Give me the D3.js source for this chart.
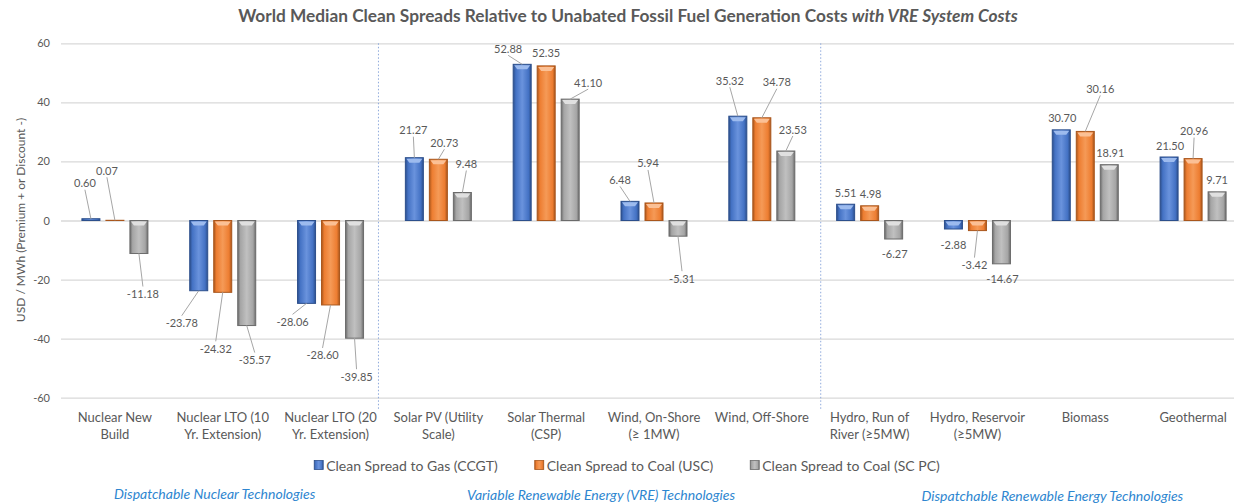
<!DOCTYPE html>
<html>
<head>
<meta charset="utf-8">
<script src="https://cdn.jsdelivr.net/npm/d3@7"></script>
<style>
  body { margin: 0; background: #fff; }
  svg { display: block; font-family: Lato, "Open Sans", sans-serif; }
</style>
</head>
<body>
<script>
// Chart data
var categories = ["Nuclear New\nBuild", "Nuclear LTO (10\nYr. Extension)", "Nuclear LTO (20\nYr. Extension)",
    "Solar PV (Utility\nScale)", "Solar Thermal\n(CSP)", "Wind, On-Shore\n(\u2265 1MW)", "Wind, Off-Shore",
    "Hydro, Run of\nRiver (\u22655MW)", "Hydro, Reservoir\n(\u22655MW)", "Biomass", "Geothermal"];
var seriesNames = ["Clean Spread to Gas (CCGT)", "Clean Spread to Coal (USC)", "Clean Spread to Coal (SC PC)"];
var gasCCGT = [0.60, -23.78, -28.06, 21.27, 52.88, 6.48, 35.32, 5.51, -2.88, 30.70, 21.50];
var coalUSC = [0.07, -24.32, -28.60, 20.73, 52.35, 5.94, 34.78, 4.98, -3.42, 30.16, 20.96];
var coalSCPC = [-11.18, -35.57, -39.85, 9.48, 41.10, -5.31, 23.53, -6.27, -14.67, 18.91, 9.71];
var yTicks = [-60, -40, -20, 0, 20, 40, 60];
var groupNames = ["Dispatchable Nuclear Technologies", "Variable Renewable Energy (VRE) Technologies",
    "Dispatchable Renewable Energy Technologies"];
var groupRanges = [[0, 2], [3, 6], [7, 10]]; // category index ranges for each group

// Data label offsets [dx, dy] from the bar end (layout only, like Excel's dragged labels)
var labelOffsets = [
    [[-6, -36], [-8, -50], [4, 40]],
    [[-17, 32], [-7, 56], [8, 34]],
    [[-14, 18], [-8, 50], [2, 38]],
    [[-1, -28], [6, -17], [4, -29]],
    [[-14, -16], [0, -13], [18, -17]],
    [[-10, -22], [-6, -40], [4, 42]],
    [[-8, -36], [15, -36], [7, -22]],
    [[0, -12], [1, -12], [1, 14]],
    [[0, 15], [-3, 34], [1, 15]],
    [[1, -12], [15, -43], [1, -12]],
    [[1, -12], [1, -28], [0, -12]]
];

var w = 1234;
var h = 504;
var left = 61, right = 1247; // plot runs slightly past the picture edge
var textColor = "#595959";

// plain hyphen for negatives, as in the original
var locale = d3.formatLocale({ decimal: ".", thousands: ",", grouping: [3], currency: ["$", ""], minus: "-" });

var allSeries = [gasCCGT, coalUSC, coalSCPC];
var colors = [
    { dark: "#2C4F8C", base: "#4472C4", light: "#6A93DD", cap: "#9DBBEE" },
    { dark: "#A9561C", base: "#ED7D31", light: "#F59A57", cap: "#FBC095" },
    { dark: "#6B6B6B", base: "#A5A5A5", light: "#C0C0C0", cap: "#E0E0E0" }
];

var svg = d3.select("body").append("svg")
    .attr("width", w)
    .attr("height", h);

// Gradients for the bevelled bars
var defs = svg.append("defs");
colors.forEach(function(c, i) {
    var g = defs.append("linearGradient").attr("id", "grad" + i)
        .attr("x1", "0%").attr("x2", "100%").attr("y1", "0%").attr("y2", "0%");
    g.append("stop").attr("offset", "0%").attr("stop-color", c.dark);
    g.append("stop").attr("offset", "15%").attr("stop-color", c.base);
    g.append("stop").attr("offset", "50%").attr("stop-color", c.light);
    g.append("stop").attr("offset", "85%").attr("stop-color", c.base);
    g.append("stop").attr("offset", "100%").attr("stop-color", c.dark);
});

// Scales
var xScale = d3.scaleBand()
    .domain(d3.range(categories.length))
    .range([left, right]);

var xSub = d3.scaleBand()
    .domain(d3.range(allSeries.length))
    .range([-33, 33])
    .paddingInner(0.25);

var yScale = d3.scaleLinear()
    .domain([-60, 60])
    .range([397.7, 43.3]);

// Title
var title = svg.append("text")
    .attr("x", 628)
    .attr("y", 22)
    .attr("text-anchor", "middle")
    .attr("font-size", "17.3px")
    .attr("font-weight", "bold")
    .attr("fill", textColor);
title.append("tspan").text("World Median Clean Spreads Relative to Unabated Fossil Fuel Generation Costs ");
title.append("tspan").attr("font-style", "italic").text("with VRE System Costs");

// Y axis with gridlines
var yAxis = d3.axisLeft(yScale)
    .tickValues(yTicks)
    .tickSize(-(right - left))
    .tickPadding(11)
    .tickFormat(locale.format("d"));

var yAxisG = svg.append("g")
    .attr("class", "y-axis")
    .attr("transform", "translate(" + left + ",0)")
    .call(yAxis);
yAxisG.select(".domain").remove();
yAxisG.selectAll("line").attr("stroke", "#D9D9D9").attr("stroke-width", 1.3);
yAxisG.selectAll("text")
    .attr("fill", textColor)
    .attr("font-size", "11px")
    .attr("font-family", "Lato, 'Open Sans', sans-serif");

// Y axis label
svg.append("text")
    .attr("transform", "rotate(-90)")
    .attr("x", -220)
    .attr("y", 20)
    .attr("text-anchor", "middle")
    .attr("dominant-baseline", "central")
    .attr("font-size", "12px")
    .attr("fill", textColor)
    .text("USD / MWh (Premium + or Discount -)");

// Dotted group dividers (nudged a little off the band edges as in the original)
var dividerX = [xScale(groupRanges[1][0]) - 6, xScale(groupRanges[2][0]) + 5];
svg.selectAll(".divider")
    .data(dividerX)
    .join("line")
    .attr("class", "divider")
    .attr("x1", function(d) { return d; })
    .attr("x2", function(d) { return d; })
    .attr("y1", yScale(60))
    .attr("y2", 410)
    .attr("stroke", "#8FAADC")
    .attr("stroke-width", 1)
    .attr("stroke-dasharray", "1.5,2");

// Bars
var barData = [];
allSeries.forEach(function(values, s) {
    values.forEach(function(v, i) {
        barData.push({ s: s, i: i, v: v });
    });
});

function barX(d) {
    return xScale(d.i) + xScale.bandwidth() / 2 + xSub(d.s);
}

var bars = svg.append("g").selectAll("g")
    .data(barData)
    .join("g");

bars.append("rect")
    .attr("x", barX)
    .attr("y", function(d) { return yScale(Math.max(0, d.v)); })
    .attr("width", xSub.bandwidth())
    .attr("height", function(d) { return Math.abs(yScale(d.v) - yScale(0)); })
    .attr("fill", function(d) { return "url(#grad" + d.s + ")"; })
    .attr("stroke", function(d) { return colors[d.s].dark; })
    .attr("stroke-width", 1);

// Bevel cap at the top of each bar
bars.filter(function(d) { return Math.abs(yScale(d.v) - yScale(0)) > 7; })
    .append("path")
    .attr("d", function(d) {
        var x0 = barX(d), bw = xSub.bandwidth();
        var top = yScale(Math.max(0, d.v));
        return "M" + (x0 + 1) + "," + (top + 1) + "L" + (x0 + bw - 1) + "," + (top + 1) +
            "L" + (x0 + bw - 4) + "," + (top + 5) + "L" + (x0 + 4) + "," + (top + 5) + "Z";
    })
    .attr("fill", function(d) { return colors[d.s].cap; });

// Data labels with leader lines
var fmt = locale.format(".2f");
barData.forEach(function(d) {
    var ax = barX(d) + xSub.bandwidth() / 2;
    var ay = yScale(d.v);
    var off = labelOffsets[d.i][d.s];
    var tx = ax + off[0], ty = ay + off[1];
    if (Math.sqrt(off[0] * off[0] + off[1] * off[1]) > 16.5) {
        var ey = off[1] < 0 ? ty + 7 : ty - 7;
        svg.append("line")
            .attr("x1", ax).attr("y1", ay)
            .attr("x2", tx).attr("y2", ey)
            .attr("stroke", "#A6A6A6")
            .attr("stroke-width", 1);
    }
    svg.append("text")
        .attr("x", tx)
        .attr("y", ty)
        .attr("text-anchor", "middle")
        .attr("dominant-baseline", "central")
        .attr("font-size", "11px")
        .attr("fill", textColor)
        .text(fmt(d.v));
});

// Category labels
var catLabels = svg.append("g").selectAll("text")
    .data(categories)
    .join("text")
    .attr("x", function(d, i) { return xScale(i) + xScale.bandwidth() / 2; })
    .attr("y", 417)
    .attr("text-anchor", "middle")
    .attr("font-size", "13px")
    .attr("fill", textColor);
catLabels.each(function(d) {
    var t = d3.select(this);
    d.split("\n").forEach(function(line, k) {
        t.append("tspan")
            .attr("x", t.attr("x"))
            .attr("dy", k === 0 ? "0.35em" : "17px")
            .text(line);
    });
});

// Legend
var legend = svg.append("g");
var items = legend.selectAll("g")
    .data(seriesNames)
    .join("g");
items.append("rect")
    .attr("width", 9)
    .attr("height", 9)
    .attr("y", -4.5)
    .attr("fill", function(d, i) { return "url(#grad" + i + ")"; })
    .attr("stroke", function(d, i) { return colors[i].dark; })
    .attr("stroke-width", 0.8);
items.append("text")
    .attr("x", 12)
    .attr("dominant-baseline", "central")
    .attr("font-size", "14px")
    .attr("fill", textColor)
    .text(function(d) { return d; });
var pos = 0, offsets = [];
items.each(function() {
    offsets.push(pos);
    pos += 12 + d3.select(this).select("text").node().getComputedTextLength() + 37;
});
var total = pos - 37;
items.attr("transform", function(d, i) {
    return "translate(" + (627 - total / 2 + offsets[i]) + ",465)";
});

// Group captions below the chart
var groupNudge = [-8, 1, 21];
var groupY = [493, 494, 495];
svg.append("g").selectAll("text")
    .data(groupNames)
    .join("text")
    .attr("x", function(d, i) {
        var r = groupRanges[i];
        return (xScale(r[0]) + xScale(r[1]) + xScale.bandwidth()) / 2 + groupNudge[i];
    })
    .attr("y", function(d, i) { return groupY[i]; })
    .attr("text-anchor", "middle")
    .attr("dominant-baseline", "central")
    .attr("font-size", "14px")
    .attr("font-style", "italic")
    .attr("fill", "#2E86D0")
    .text(function(d) { return d; });
</script>
</body>
</html>
